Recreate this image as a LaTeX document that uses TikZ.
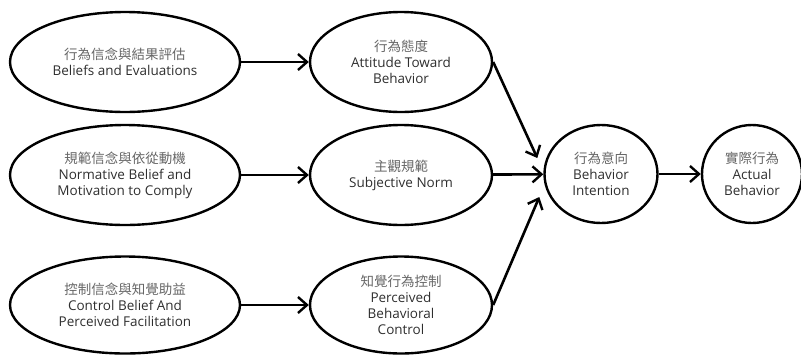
\documentclass[tikz,border=0pt]{standalone}
\usepackage{fontspec}
\setmainfont{Open Sans}
\newfontfamily\cjk{Noto Sans CJK TC}
\usepackage{tikz}
\usetikzlibrary{shapes.geometric, arrows.meta}

\definecolor{zhgray}{HTML}{666666}
\definecolor{engray}{HTML}{2E2E2E}
\newcommand{\zh}[1]{{\cjk\color{zhgray}#1}}

\begin{document}
\begin{tikzpicture}[x=1pt, y=1pt,
  belief/.style={ellipse, draw, line width=2.4pt, inner sep=0pt,
                 minimum width=230pt, minimum height=100pt, align=center,
                 text=engray, font=\fontsize{13.5}{16}\selectfont},
  factor/.style={belief, minimum width=182pt},
  outcome/.style={belief, minimum width=113pt, minimum height=98pt},
  arrow/.style={-{Straight Barb[length=9pt, width=16pt, line width=2.4pt]},
                line width=2.6pt}
]
\useasboundingbox (0,0) rectangle (801,-354);

%% Beliefs — fixed coordinates
\node[belief] at (125, -62)  (beh)  {\zh{行為信念與結果評估}\\Beliefs and Evaluations};
\node[belief] at (125, -175) (norm) {\zh{規範信念與依從動機}\\Normative Belief and\\Motivation to Comply};
\node[belief, minimum height=97pt] at (125, -305) (ctrl)
  {\zh{控制信念與知覺助益}\\Control Belief And\\Perceived Facilitation};

%% Factors
\node[factor] at (401, -62)  (att) {\zh{行為態度}\\Attitude Toward\\Behavior};
\node[factor] at (401, -175) (sn)  {\zh{主觀規範}\\Subjective Norm};
\node[factor, minimum height=97pt] at (401, -305) (pbc)
  {\zh{知覺行為控制}\\Perceived\\Behavioral\\Control};

%% Intention and behavior
\node[outcome] at (601, -174) (bi) {\zh{行為意向}\\Behavior\\Intention};
\node[outcome, minimum width=100pt] at (752, -174) (ab) {\zh{實際行為}\\Actual\\Behavior};

%% Beliefs -> factors
\draw[arrow] (beh) -- (att);
\draw[arrow] (norm) -- (sn);
\draw[arrow] (ctrl) -- (pbc);

%% Factors -> intention
\draw[arrow] (att.east) -- ([xshift=-6pt, yshift=16pt]bi.west);
\draw[arrow] (sn) -- (bi);
\draw[arrow] (pbc.east) -- ([xshift=-4pt, yshift=-23pt]bi.west);

%% Intention -> behavior
\draw[arrow] (bi) -- (ab);
\end{tikzpicture}
\end{document}
